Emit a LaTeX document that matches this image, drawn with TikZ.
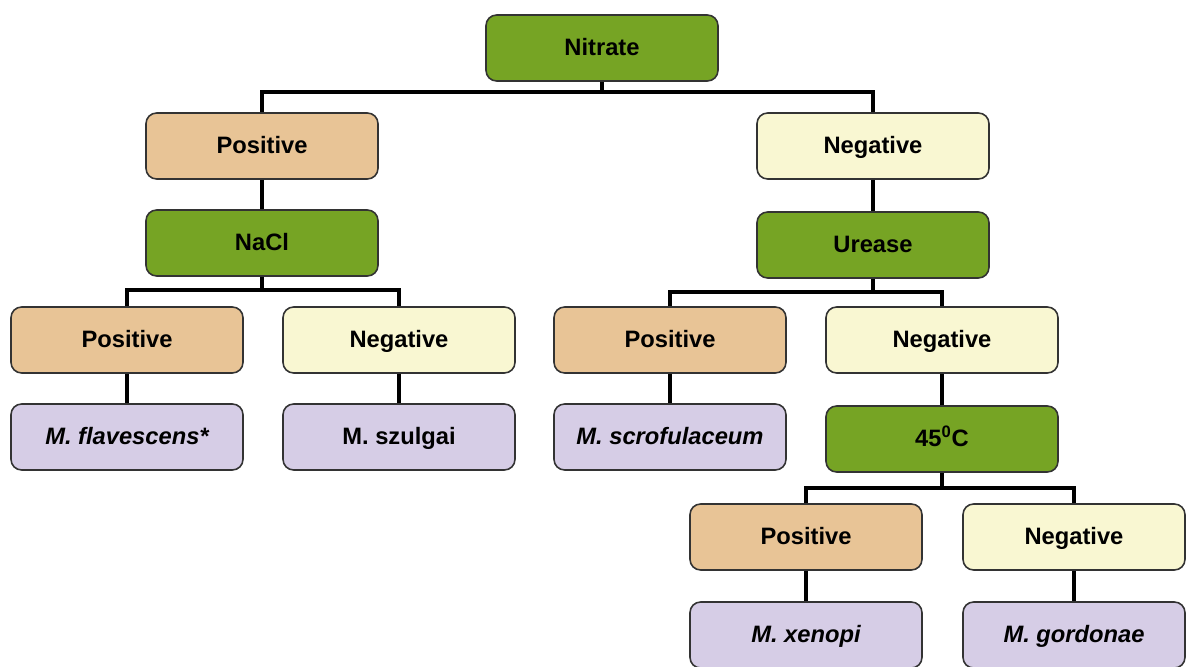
\documentclass[tikz,border=0pt]{standalone}
\usepackage{fontspec}
\setmainfont{Liberation Sans}
\usepackage{tikz}
\usetikzlibrary{positioning}
\usetikzlibrary{calc}
\definecolor{testgreen}{RGB}{118,164,36}
\definecolor{postan}{RGB}{232,196,150}
\definecolor{negyellow}{RGB}{249,247,210}
\definecolor{speclilac}{RGB}{214,205,230}
\tikzstyle{box}=[rectangle,rounded corners=6pt,draw=black!80,line width=0.9pt,minimum width=4.64cm,minimum height=1.32cm,inner sep=0pt,text height=9.8pt,text depth=0.8pt,font=\fontsize{13.5}{15}\selectfont\bfseries]
\tikzstyle{testbox}=[box,fill=testgreen]
\tikzstyle{posbox}=[box,fill=postan]
\tikzstyle{negbox}=[box,fill=negyellow]
\tikzstyle{specbox}=[box,fill=speclilac]
\tikzstyle{link}=[line width=2.2pt,black]

\begin{document}
\begin{tikzpicture}

  \def\u{0.02};

  \useasboundingbox (0,0) rectangle (1188*\u,-667*\u);

  % tests
  \foreach \x/\y/\name/\label in {602/48/nitrate/Nitrate, 262/243/nacl/NaCl, 873/245/urease/Urease, 942/439/temp/{45\textsuperscript{0}C}}
    \node[testbox] (\name) at (\x*\u, -\y*\u) {\label};

  % results
  \foreach \x/\y/\name in {262/146/posA, 127/340/posB, 670/340/posC, 806/537/posD}
    \node[posbox] (\name) at (\x*\u, -\y*\u) {Positive};
  \foreach \x/\y/\name in {873/146/negA, 399/340/negB, 942/340/negC}
    \node[negbox] (\name) at (\x*\u, -\y*\u) {Negative};
  \node[negbox, minimum width=4.44cm] (negD) at (1074*\u, -537*\u) {Negative};

  % species
  \foreach \x/\y/\name/\label in {127/437/flav/{\itshape M. flavescens*}, 399/437/szul/M. szulgai, 670/437/scro/{\itshape M. scrofulaceum}, 806/635/xeno/{\itshape M. xenopi}}
    \node[specbox] (\name) at (\x*\u, -\y*\u) {\label};
  \node[specbox, minimum width=4.44cm] (gord) at (1074*\u, -635*\u) {\itshape M. gordonae};

  % branches
  \draw[link] (nitrate.south) -- ++(0,-0.2) -| (posA.north);
  \draw[link] (nitrate.south) -- ++(0,-0.2) -| (negA.north);
  \draw[link] (posA) -- (nacl);
  \draw[link] (negA) -- (urease);
  \draw[link] (nacl.south) -- ++(0,-0.26) -| (posB.north);
  \draw[link] (nacl.south) -- ++(0,-0.26) -| (negB.north);
  \draw[link] (urease.south) -- ++(0,-0.26) -| (posC.north);
  \draw[link] (urease.south) -- ++(0,-0.26) -| (negC.north);
  \draw[link] (posB) -- (flav);
  \draw[link] (negB) -- (szul);
  \draw[link] (posC) -- (scro);
  \draw[link] (negC) -- (temp);
  \draw[link] (temp.south) -- ++(0,-0.3) -| (posD.north);
  \draw[link] (temp.south) -- ++(0,-0.3) -| (negD.north);
  \draw[link] (posD) -- (xeno);
  \draw[link] (negD) -- (gord);

\end{tikzpicture}
\end{document}
